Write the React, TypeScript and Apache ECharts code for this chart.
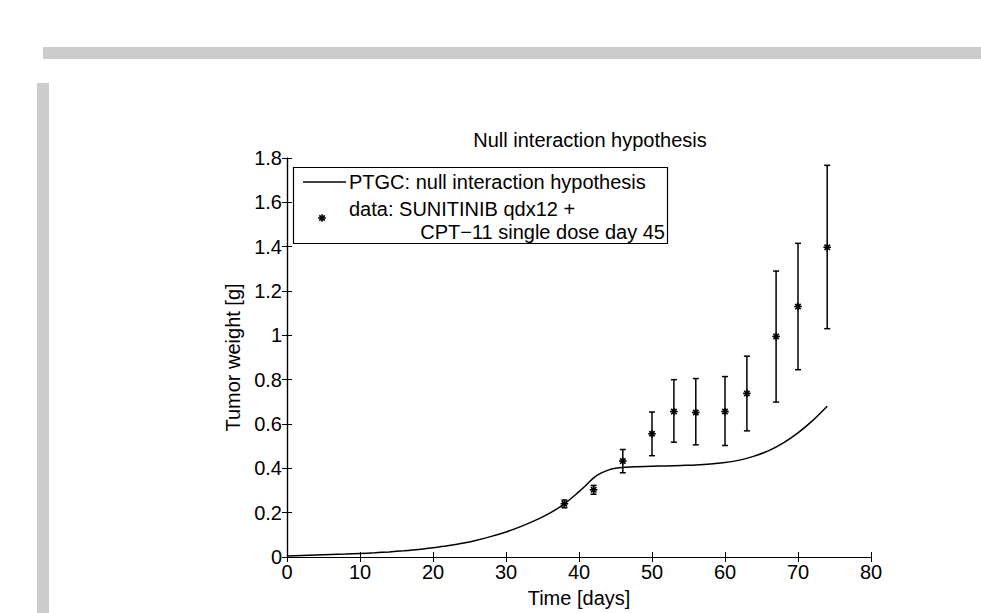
import React, { useEffect, useRef } from "react";
import * as echarts from "echarts";

const titleText = "Null interaction hypothesis";
const xTitle = "Time [days]";
const yTitle = "Tumor weight [g]";
const lineName = "PTGC: null interaction hypothesis";
const dataNameLine1 = "data: SUNITINIB qdx12 +";
const dataNameLine2 = "CPT\u221211 single dose day 45";

// model curve
const curveDays = [0, 2, 4, 6, 8, 10, 12, 14, 16, 18, 20, 22, 24, 26, 28, 30, 32, 34, 36, 38, 40, 41, 42, 43, 44, 45, 46, 48, 50, 52, 54, 56, 58, 60, 62, 64, 66, 68, 70, 72, 74];
const curveValues = [0.005, 0.007, 0.009, 0.011, 0.013, 0.016, 0.019, 0.023, 0.028, 0.034, 0.042, 0.051, 0.062, 0.076, 0.093, 0.113, 0.137, 0.165, 0.198, 0.24, 0.295, 0.325, 0.357, 0.378, 0.392, 0.4, 0.404, 0.407, 0.409, 0.411, 0.413, 0.415, 0.419, 0.426, 0.437, 0.455, 0.48, 0.515, 0.56, 0.615, 0.68];

// measured data with error bars
const dataDays = [38, 42, 46, 50, 53, 56, 60, 63, 67, 70, 74];
const dataMeans = [0.24, 0.303, 0.433, 0.556, 0.656, 0.652, 0.656, 0.738, 0.995, 1.13, 1.397];
const dataLower = [0.222, 0.283, 0.38, 0.457, 0.518, 0.506, 0.503, 0.569, 0.699, 0.845, 1.03];
const dataUpper = [0.257, 0.323, 0.485, 0.654, 0.8, 0.805, 0.814, 0.906, 1.29, 1.415, 1.767];

const xTicks = [0, 10, 20, 30, 40, 50, 60, 70, 80];
const yTicks = [0, 0.2, 0.4, 0.6, 0.8, 1, 1.2, 1.4, 1.6, 1.8];

const FONT = "Liberation Sans";
const FS = 20;

function asteriskLines(cx: number, cy: number, r: number, w: number) {
  const d = r * 0.7071;
  const segs = [
    [cx - r, cy, cx + r, cy],
    [cx, cy - r, cx, cy + r],
    [cx - d, cy - d, cx + d, cy + d],
    [cx - d, cy + d, cx + d, cy - d],
  ];
  return segs.map((s) => ({
    type: "line",
    shape: { x1: s[0], y1: s[1], x2: s[2], y2: s[3] },
    style: { stroke: "#000", lineWidth: w },
    silent: true,
  }));
}

export default function App() {
  const ref = useRef<HTMLDivElement>(null);
  useEffect(() => {
    if (!ref.current) return;
    const chart = echarts.init(ref.current, null, { renderer: "svg" });
    const axisCommon = {
      min: 0,
      axisLine: { show: true, lineStyle: { color: "#000", width: 1.2 } },
      axisTick: { show: true, inside: true, length: 5, lineStyle: { color: "#000", width: 1 } },
      splitLine: { show: false },
    };
    const curveData = curveDays.map((d, i) => [d, curveValues[i]]);
    const errData = dataDays.map((d, i) => [d, dataMeans[i], dataLower[i], dataUpper[i]]);
    const option: any = {
      animation: false,
      backgroundColor: "#fff",
      textStyle: { fontFamily: FONT },
      title: {
        text: titleText,
        left: 585,
        top: 125,
        textAlign: "center",
        textStyle: { fontFamily: FONT, fontSize: FS, fontWeight: "normal", color: "#000" },
      },
      grid: { left: 287, right: 110, top: 158, bottom: 56 },
      xAxis: [
        {
          ...axisCommon,
          type: "value",
          max: 80,
          interval: 10,
          position: "bottom",
          name: xTitle,
          nameLocation: "middle",
          nameGap: 31,
          nameTextStyle: { fontFamily: FONT, fontSize: FS, color: "#000" },
          axisLabel: {
            fontFamily: FONT,
            fontSize: FS,
            color: "#000",
            margin: 5,
            formatter: (v: number) => (xTicks.includes(v) ? String(v) : ""),
          },
        },
        {
          ...axisCommon,
          type: "value",
          max: 80,
          interval: 10,
          position: "top",
          axisLabel: { show: false },
        },
      ],
      yAxis: [
        {
          ...axisCommon,
          type: "value",
          max: 1.8,
          interval: 0.2,
          position: "left",
          name: yTitle,
          nameLocation: "middle",
          nameGap: 39,
          nameTextStyle: { fontFamily: FONT, fontSize: FS, color: "#000" },
          axisLabel: {
            fontFamily: FONT,
            fontSize: FS,
            color: "#000",
            margin: 5,
            formatter: (v: number) => {
              const t = yTicks.find((k) => Math.abs(k - v) < 1e-6);
              return t === undefined ? "" : String(Math.round(t * 10) / 10);
            },
          },
        },
        {
          ...axisCommon,
          type: "value",
          max: 1.8,
          interval: 0.2,
          position: "right",
          axisLabel: { show: false },
        },
      ],
      series: [
        {
          name: lineName,
          type: "line",
          data: curveData,
          showSymbol: false,
          smooth: 0.3,
          lineStyle: { color: "#000", width: 1.5 },
          xAxisIndex: 0,
          yAxisIndex: 0,
          z: 3,
        },
        {
          name: dataNameLine1 + " " + dataNameLine2,
          type: "custom",
          data: errData,
          xAxisIndex: 0,
          yAxisIndex: 0,
          z: 4,
          renderItem: (params: any, api: any) => {
            const x = api.value(0);
            const p = api.coord([x, api.value(1)]);
            const pl = api.coord([x, api.value(2)]);
            const ph = api.coord([x, api.value(3)]);
            const cap = 3;
            const children: any[] = [
              { type: "line", shape: { x1: pl[0], y1: pl[1], x2: ph[0], y2: ph[1] }, style: { stroke: "#000", lineWidth: 1.5 } },
              { type: "line", shape: { x1: pl[0] - cap, y1: pl[1], x2: pl[0] + cap, y2: pl[1] }, style: { stroke: "#000", lineWidth: 1.5 } },
              { type: "line", shape: { x1: ph[0] - cap, y1: ph[1], x2: ph[0] + cap, y2: ph[1] }, style: { stroke: "#000", lineWidth: 1.5 } },
              ...asteriskLines(p[0], p[1], 3.8, 1.6),
            ];
            return { type: "group", children };
          },
        },
      ],
      graphic: [
        { type: "rect", shape: { x: 43, y: 47, width: 938, height: 12 }, style: { fill: "#cccccc" }, silent: true },
        { type: "rect", shape: { x: 37, y: 83, width: 12, height: 530 }, style: { fill: "#cccccc" }, silent: true },
        {
          type: "group",
          z: 100,
          children: [
            { type: "rect", shape: { x: 293.5, y: 167.5, width: 374, height: 76 }, style: { fill: "#fff", stroke: "#000", lineWidth: 1.2 } },
            { type: "line", shape: { x1: 303, y1: 182, x2: 346, y2: 182 }, style: { stroke: "#000", lineWidth: 1.5 } },
            {
              type: "text",
              x: 349,
              y: 182,
              style: { text: lineName, fontFamily: FONT, fontSize: FS, fill: "#000", verticalAlign: "middle" },
            },
            {
              type: "text",
              x: 349,
              y: 209,
              style: { text: dataNameLine1, fontFamily: FONT, fontSize: FS, fill: "#000", verticalAlign: "middle" },
            },
            {
              type: "text",
              x: 665,
              y: 232,
              style: { text: dataNameLine2, fontFamily: FONT, fontSize: FS, fill: "#000", align: "right", verticalAlign: "middle" },
            },
            ...asteriskLines(322, 218, 3.8, 1.6),
          ],
        },
      ],
    };
    chart.setOption(option);
    return () => chart.dispose();
  }, []);
  return <div ref={ref} style={{ position: "fixed", left: 0, top: 0, width: 981, height: 613 }} />;
}
